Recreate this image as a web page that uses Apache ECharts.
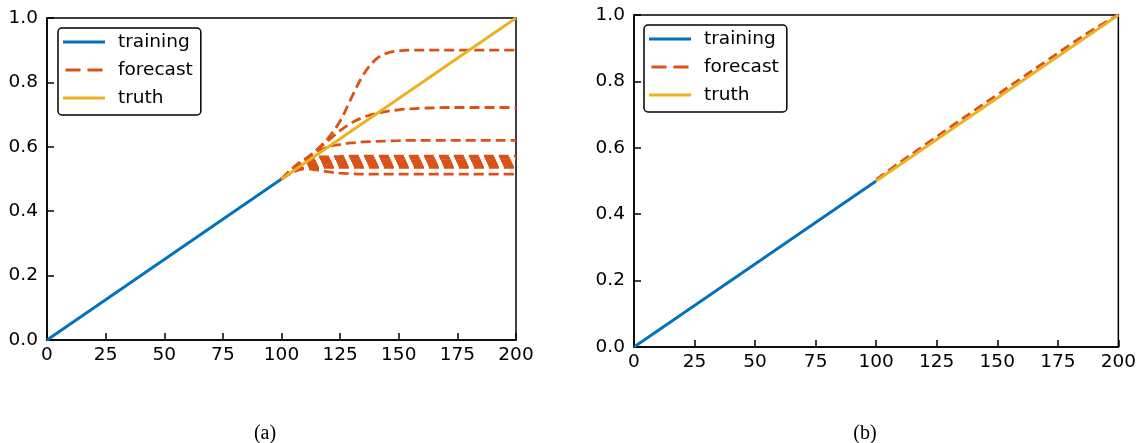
<!DOCTYPE html>
<html>
<head>
<meta charset="utf-8">
<script src="https://cdn.jsdelivr.net/npm/echarts@6/dist/echarts.min.js"></script>
<style>
html,body{margin:0;padding:0;background:#fff;}
#c{width:1139px;height:443px;}
</style>
</head>
<body>
<div id="c"></div>
<script>
// ---- data ----
var xTicks = [0, 25, 50, 75, 100, 125, 150, 175, 200];
var yTicks = [0.0, 0.2, 0.4, 0.6, 0.8, 1.0];
var trainX = [0, 100];
var trainY = [0, 0.5];
var truthX = [100, 200];
var truthY = [0.5, 1.0];

// panel (a) forecasts
var forecastX_a = [100,105,110,115,120,125,130,135,140,145,150,155,160,165,170,175,180,185,190,195,200];
var fcA1 = [0.5,0.53,0.558,0.59,0.628,0.68,0.755,0.825,0.87,0.891,0.898,0.9,0.9,0.9,0.9,0.9,0.9,0.9,0.9,0.9,0.9];
var fcA2 = [0.5,0.53,0.56,0.59,0.62,0.65,0.675,0.692,0.703,0.71,0.715,0.718,0.72,0.721,0.722,0.722,0.722,0.722,0.722,0.722,0.722];
var fcA3 = [0.5,0.53,0.56,0.585,0.6,0.607,0.612,0.615,0.617,0.618,0.619,0.62,0.62,0.62,0.62,0.62,0.62,0.62,0.62,0.62,0.62];
var fcA4 = [0.5,0.535,0.562,0.568,0.569,0.57,0.571,0.571,0.571,0.571,0.571,0.571,0.571,0.571,0.571,0.571,0.571,0.571,0.571,0.571,0.571];
var fcA5 = [0.5,0.533,0.557,0.562,0.563,0.564,0.564,0.564,0.564,0.564,0.564,0.564,0.564,0.564,0.564,0.564,0.564,0.564,0.564,0.564,0.564];
var fcA6 = [0.5,0.53,0.551,0.555,0.556,0.557,0.557,0.557,0.557,0.557,0.557,0.557,0.557,0.557,0.557,0.557,0.557,0.557,0.557,0.557,0.557];
var fcA7 = [0.5,0.528,0.545,0.548,0.549,0.55,0.55,0.55,0.55,0.55,0.55,0.55,0.55,0.55,0.55,0.55,0.55,0.55,0.55,0.55,0.55];
var fcA8 = [0.5,0.525,0.539,0.541,0.542,0.543,0.543,0.543,0.543,0.543,0.543,0.543,0.543,0.543,0.543,0.543,0.543,0.543,0.543,0.543,0.543];
var fcA9 = [0.5,0.522,0.533,0.535,0.536,0.536,0.536,0.536,0.536,0.536,0.536,0.536,0.536,0.536,0.536,0.536,0.536,0.536,0.536,0.536,0.536];
var fcA10 = [0.5,0.522,0.532,0.528,0.522,0.518,0.516,0.515,0.515,0.515,0.515,0.515,0.515,0.515,0.515,0.515,0.515,0.515,0.515,0.515,0.515];
var forecastsA = [fcA1, fcA2, fcA3, fcA4, fcA5, fcA6, fcA7, fcA8, fcA9, fcA10];

// panel (b) forecast
var forecastX_b = [100,110,120,130,140,150,160,170,180,190,200];
var fcB = [0.505,0.557,0.608,0.659,0.71,0.76,0.81,0.86,0.91,0.958,1.0];

var legendNames = ['training', 'forecast', 'truth'];
var captions = ['(a)', '(b)'];

// ---- styles ----
var C_TRAIN = '#0072BD', C_FC = '#D95319', C_TRUTH = '#EDB120';
var FONT = 'DejaVu Sans';
var LW = 2.8;
var ICON_SOLID = 'path://M0,0H42V3H0Z';
var ICON_DASH = 'path://M0,0H15V3H0Z M22,0H37V3H22Z';

function pairs(xs, ys) { return xs.map(function (x, i) { return [x, ys[i]]; }); }

function makeX(gi) {
  return {
    type: 'value', gridIndex: gi, min: 0, max: 200, interval: 25,
    axisLine: { show: true, onZero: false, lineStyle: { color: '#000', width: 1.5 } },
    axisTick: { show: true, inside: true, length: 7, lineStyle: { color: '#000', width: 1.5 } },
    axisLabel: { color: '#000', fontFamily: FONT, fontSize: 18.5, margin: 6 },
    splitLine: { show: false }
  };
}
function makeY(gi) {
  return {
    type: 'value', gridIndex: gi, min: 0, max: 1, interval: 0.2,
    axisLine: { show: true, onZero: false, lineStyle: { color: '#000', width: 1.5 } },
    axisTick: { show: true, inside: true, length: 7, lineStyle: { color: '#000', width: 1.5 } },
    axisLabel: { color: '#000', fontFamily: FONT, fontSize: 18.5, margin: 9,
      formatter: function (v) { return v.toFixed(1); } },
    splitLine: { show: false }
  };
}
function lineSeries(name, gi, data, color, dashed, z) {
  return {
    name: name, type: 'line', xAxisIndex: gi, yAxisIndex: gi, data: data,
    showSymbol: false, symbol: 'none', smooth: dashed ? 0.35 : false,
    lineStyle: { color: color, width: LW, type: dashed ? [10, 5] : 'solid' },
    itemStyle: { color: color }, z: z, animation: false, silent: true
  };
}

var series = [];
series.push(lineSeries('training', 0, pairs(trainX, trainY), C_TRAIN, false, 2));
forecastsA.forEach(function (f) { series.push(lineSeries('forecast', 0, pairs(forecastX_a, f), C_FC, true, 3)); });
series.push(lineSeries('truth', 0, pairs(truthX, truthY), C_TRUTH, false, 4));
series.push(lineSeries('training', 1, pairs(trainX, trainY), C_TRAIN, false, 2));
series.push(lineSeries('forecast', 1, pairs(forecastX_b, fcB), C_FC, true, 3));
series.push(lineSeries('truth', 1, pairs(truthX, truthY), C_TRUTH, false, 4));

function makeLegend(left, top) {
  return {
    data: [
      { name: legendNames[0], icon: ICON_SOLID, itemStyle: { color: C_TRAIN } },
      { name: legendNames[1], icon: ICON_DASH, itemStyle: { color: C_FC } },
      { name: legendNames[2], icon: ICON_SOLID, itemStyle: { color: C_TRUTH } }
    ],
    orient: 'vertical', left: left, top: top,
    itemWidth: 42, itemHeight: 3, itemGap: 8,
    padding: [4, 8, 7, 5],
    borderColor: '#000', borderWidth: 1.5, borderRadius: 4, backgroundColor: '#fff',
    itemStyle: { borderWidth: 0 },
    lineStyle: { width: 0 },
    textStyle: { color: '#000', fontFamily: FONT, fontSize: 18.5, lineHeight: 20, padding: [0, 0, 0, 8] },
    selectedMode: false
  };
}

var chart = echarts.init(document.getElementById('c'), null, { renderer: 'canvas' });
chart.setOption({
  backgroundColor: '#fff',
  animation: false,
  title: [
    { text: captions[0], left: 260, top: 419, textAlign: 'center',
      textStyle: { fontFamily: 'Liberation Serif', fontSize: 20, fontWeight: 'normal', color: '#000' } },
    { text: captions[1], left: 860, top: 419, textAlign: 'center',
      textStyle: { fontFamily: 'Liberation Serif', fontSize: 20, fontWeight: 'normal', color: '#000' } }
  ],
  legend: [makeLegend(58, 28), makeLegend(644, 25)],
  grid: [
    { left: 47, top: 18, width: 469, height: 322, show: true, borderColor: '#000', borderWidth: 1.5, backgroundColor: 'transparent' },
    { left: 634, top: 15, width: 487, height: 332, show: true, borderColor: '#000', borderWidth: 1.5, backgroundColor: 'transparent' }
  ],
  xAxis: [makeX(0), makeX(1)],
  yAxis: [makeY(0), makeY(1)],
  series: series
});
</script>
</body>
</html>
